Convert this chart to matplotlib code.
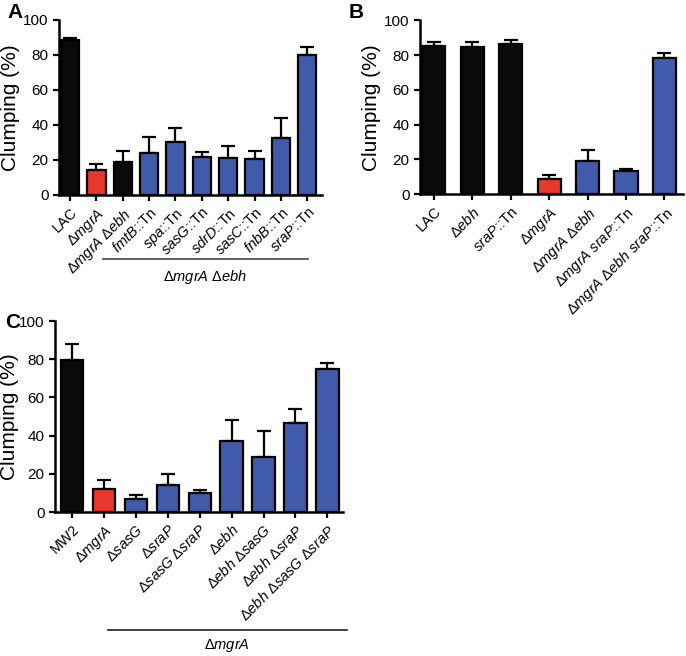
import matplotlib
matplotlib.use("Agg")
import matplotlib.pyplot as plt
import numpy as np

plt.rcParams['font.family'] = ['Liberation Sans', 'DejaVu Sans']
plt.rcParams['mathtext.fontset'] = 'custom'
plt.rcParams['mathtext.rm'] = 'Liberation Sans'
plt.rcParams['mathtext.it'] = 'Liberation Sans:italic'
plt.rcParams['mathtext.default'] = 'rm'

BLACK = '#0a0a0a'
RED = '#e8372b'
BLUE = '#3f5ba9'

# panel A
labels_a = [r'LAC', r'$\Delta\mathit{mgrA}$', r'$\Delta\mathit{mgrA}\ \Delta\mathit{ebh}$',
            r'$\mathit{fmtB}$::Tn', r'$\mathit{spa}$::Tn', r'$\mathit{sasG}$::Tn',
            r'$\mathit{sdrD}$::Tn', r'$\mathit{sasC}$::Tn', r'$\mathit{fnbB}$::Tn',
            r'$\mathit{sraP}$::Tn']
values_a = [88.2, 14.3, 18.7, 23.8, 30.1, 21.5, 21.1, 20.4, 32.4, 79.8]
errors_a = [1.2, 3.4, 6.1, 9.3, 8.2, 2.7, 6.9, 4.9, 11.4, 4.4]
colors_a = [BLACK, RED, BLACK] + [BLUE] * 7

# panel B
labels_b = [r'LAC', r'$\Delta\mathit{ebh}$', r'$\mathit{sraP}$::Tn', r'$\Delta\mathit{mgrA}$',
            r'$\Delta\mathit{mgrA}\ \Delta\mathit{ebh}$', r'$\Delta\mathit{mgrA}\ \mathit{sraP}$::Tn',
            r'$\Delta\mathit{mgrA}\ \Delta\mathit{ebh}\ \mathit{sraP}$::Tn']
values_b = [85.1, 84.5, 86.6, 9.0, 19.1, 13.2, 78.6]
errors_b = [2.7, 3.3, 2.3, 1.9, 6.1, 1.5, 2.7]
colors_b = [BLACK, BLACK, BLACK, RED, BLUE, BLUE, BLUE]

# panel C
labels_c = [r'MW2', r'$\Delta\mathit{mgrA}$', r'$\Delta\mathit{sasG}$', r'$\Delta\mathit{sraP}$',
            r'$\Delta\mathit{sasG}\ \Delta\mathit{sraP}$', r'$\Delta\mathit{ebh}$',
            r'$\Delta\mathit{ebh}\ \Delta\mathit{sasG}$', r'$\Delta\mathit{ebh}\ \Delta\mathit{sraP}$',
            r'$\Delta\mathit{ebh}\ \Delta\mathit{sasG}\ \Delta\mathit{sraP}$']
values_c = [79.5, 12.1, 6.6, 14.3, 9.8, 37.2, 28.7, 46.7, 74.7]
errors_c = [8.4, 4.9, 2.1, 5.5, 1.6, 11.1, 13.6, 7.5, 3.1]
colors_c = [BLACK, RED] + [BLUE] * 7


def draw_panel(ax, labels, values, errors, colors, width, xlim, ylab_x):
    x = np.arange(len(values))
    ax.bar(x, values, width=width, color=colors, edgecolor='black', linewidth=1.6, zorder=3)
    ax.errorbar(x, values, yerr=[np.zeros(len(errors)), errors], fmt='none',
                ecolor='black', elinewidth=1.6, capsize=5, capthick=1.6, zorder=2)
    ax.set_ylim(0, 100)
    ax.set_xlim(*xlim)
    ax.set_yticks([0, 20, 40, 60, 80, 100])
    ax.set_xticks(x)
    ax.set_xticklabels(labels, rotation=45, ha='right', rotation_mode='anchor', fontsize=10.5)
    ax.tick_params(axis='y', labelsize=11, width=1.6, length=4, direction='out')
    ax.tick_params(axis='x', width=1.6, length=4, direction='out')
    for s in ['top', 'right']:
        ax.spines[s].set_visible(False)
    for s in ['left', 'bottom']:
        ax.spines[s].set_linewidth(1.8)
    ax.set_ylabel('Clumping (%)', fontsize=15, va='center')
    ax.yaxis.set_label_coords(ylab_x, 0.5)


fig = plt.figure(figsize=(6.86, 6.56), dpi=100)

ax_a = fig.add_axes([0.086, 0.703, 0.383, 0.267])
draw_panel(ax_a, labels_a, values_a, errors_a, colors_a, 0.7, (-0.42, 9.55), -0.186)
ax_b = fig.add_axes([0.612, 0.704, 0.383, 0.265])
draw_panel(ax_b, labels_b, values_b, errors_b, colors_b, 0.6, (-0.36, 6.47), -0.183)
ax_c = fig.add_axes([0.080, 0.2195, 0.42, 0.291])
draw_panel(ax_c, labels_c, values_c, errors_c, colors_c, 0.7, (-0.54, 8.49), -0.156)

# group lines under x labels
fig.add_artist(plt.Line2D([103 / 686, 308 / 686], [1 - 259 / 656] * 2, color='#444444', lw=1.2))
fig.text(205 / 686, 1 - 277 / 656, r'$\Delta\mathit{mgrA}\ \Delta\mathit{ebh}$', ha='center', va='center', fontsize=10.5)
fig.add_artist(plt.Line2D([108 / 686, 347 / 686], [1 - 630 / 656] * 2, color='#222222', lw=1.2))
fig.text(227 / 686, 1 - 645 / 656, r'$\Delta\mathit{mgrA}$', ha='center', va='center', fontsize=10.5)

# panel letters
fig.text(7 / 686, 1 - 13 / 656, 'A', fontsize=15, fontweight='bold', va='center')
fig.text(349 / 686, 1 - 13 / 656, 'B', fontsize=15, fontweight='bold', va='center')
fig.text(5 / 686, 1 - 322 / 656, 'C', fontsize=15, fontweight='bold', va='center')

fig.savefig('out.png', dpi=100)
